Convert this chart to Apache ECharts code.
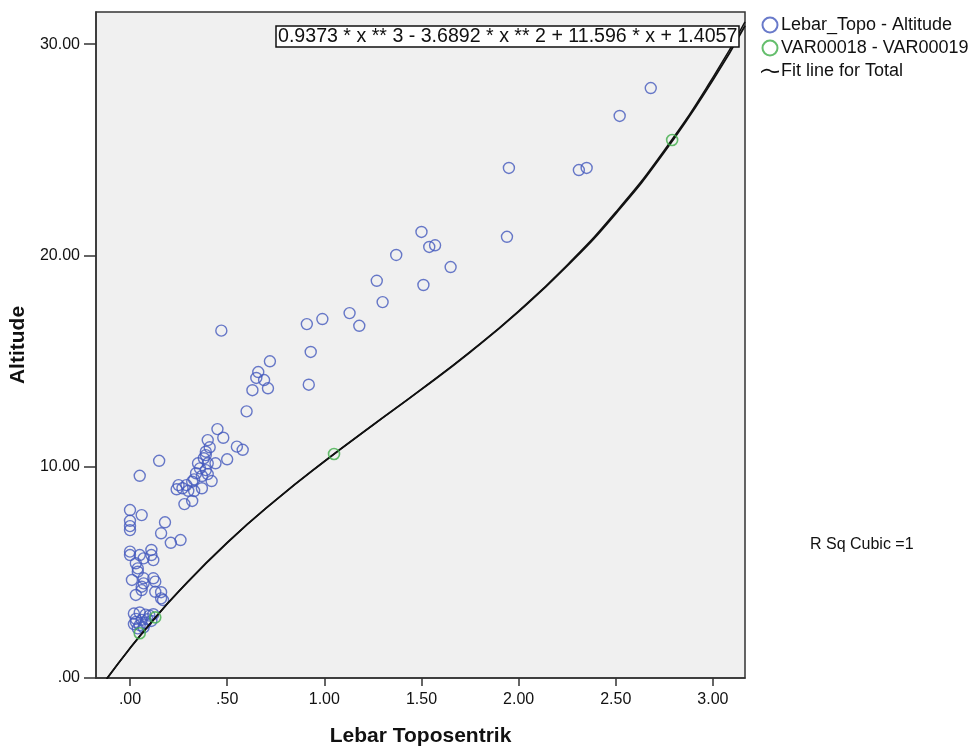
<!DOCTYPE html>
<html>
<head>
<meta charset="utf-8">
<script src="https://cdn.jsdelivr.net/npm/echarts@6/dist/echarts.min.js"></script>
<style>
  html, body { margin: 0; padding: 0; background: #fff; }
  #main { width: 979px; height: 751px; }
</style>
</head>
<body>
<div id="main"></div>
<script>
// 数据
const topoAltitude = [
  [2.68, 27.92], [2.52, 26.60], [1.95, 24.14], [2.31, 24.04], [2.35, 24.14],
  [1.50, 21.11], [1.54, 20.40], [1.57, 20.48], [1.94, 20.88], [1.37, 20.02],
  [1.65, 19.45], [1.51, 18.60], [1.27, 18.80], [1.30, 17.79], [1.13, 17.27],
  [1.18, 16.67], [0.99, 16.99], [0.91, 16.75], [0.47, 16.44], [0.93, 15.43],
  [0.92, 13.88], [0.72, 14.99], [0.66, 14.48], [0.65, 14.20], [0.69, 14.10],
  [0.71, 13.71], [0.63, 13.62], [0.60, 12.62],
  [0.45, 11.78], [0.48, 11.37], [0.40, 11.26], [0.55, 10.95], [0.58, 10.80],
  [0.41, 10.92], [0.39, 10.71], [0.39, 10.55], [0.38, 10.40], [0.44, 10.16],
  [0.50, 10.35], [0.15, 10.28], [0.35, 10.16], [0.40, 10.16], [0.36, 9.92],
  [0.39, 9.84], [0.34, 9.69], [0.37, 9.56], [0.40, 9.65], [0.42, 9.32],
  [0.37, 8.98], [0.32, 9.29], [0.33, 9.40], [0.25, 9.13], [0.24, 8.93],
  [0.27, 8.98], [0.29, 9.13], [0.30, 8.86], [0.33, 8.85], [0.05, 9.57],
  [0.32, 8.38], [0.28, 8.23],
  [0.00, 7.95], [0.06, 7.71], [0.00, 7.44], [0.00, 7.19], [0.00, 7.00],
  [0.18, 7.37], [0.16, 6.85], [0.21, 6.40], [0.26, 6.53],
  [0.00, 5.98], [0.00, 5.82], [0.05, 5.82], [0.07, 5.66], [0.11, 6.06],
  [0.11, 5.82], [0.12, 5.58], [0.03, 5.43], [0.04, 5.19], [0.04, 5.03],
  [0.01, 4.64], [0.07, 4.72], [0.07, 4.48], [0.12, 4.72], [0.13, 4.56],
  [0.06, 4.32], [0.06, 4.16], [0.03, 3.93], [0.13, 4.08], [0.16, 4.06],
  [0.16, 3.77], [0.17, 3.69],
  [0.02, 3.05], [0.05, 3.10], [0.08, 3.00], [0.10, 2.95], [0.12, 3.02],
  [0.03, 2.80], [0.06, 2.75], [0.09, 2.78], [0.02, 2.55], [0.05, 2.50],
  [0.08, 2.60], [0.11, 2.70], [0.04, 2.35], [0.07, 2.40], [0.03, 2.65]
]

const var18var19 = [[0.05, 2.12], [0.13, 2.87], [1.05, 10.60], [2.79, 25.46]]

// 拟合曲线上读取的点
const fitTotal = [
  [-0.12, -0.04], [0.00, 1.41], [0.10, 2.53], [0.25, 4.09], [0.50, 6.40],
  [0.75, 8.42], [1.00, 10.25], [1.25, 11.97], [1.50, 13.66], [1.75, 15.42],
  [2.00, 17.34], [2.25, 19.50], [2.50, 21.98], [2.75, 24.89], [3.00, 28.30],
  [3.165, 30.87]
]
const fitGroup = [
  [-0.12, -0.04], [0.00, 1.41], [0.10, 2.53], [0.25, 4.09], [0.50, 6.40],
  [0.75, 8.42], [1.00, 10.25], [1.25, 11.97], [1.50, 13.67], [1.75, 15.44],
  [2.00, 17.37], [2.25, 19.55], [2.50, 22.05], [2.75, 24.98], [3.00, 28.42],
  [3.165, 31.05]
]

const xTickValues = [0, 0.5, 1, 1.5, 2, 2.5, 3]
const xTickLabels = ['.00', '.50', '1.00', '1.50', '2.00', '2.50', '3.00']
const yTickValues = [0, 10, 20, 30]
const yTickLabels = ['.00', '10.00', '20.00', '30.00']

const equationText = '0.9373 * x ** 3 - 3.6892 * x ** 2 + 11.596 * x + 1.4057'

function tickLabel(values, labels) {
  return function (v) {
    let i = values.findIndex(t => Math.abs(t - v) < 1e-6)
    return i < 0 ? '' : labels[i]
  }
}

var myChart = echarts.init(document.getElementById('main'))

var font = 'Liberation Sans, Arial, sans-serif'

var option = {
  backgroundColor: '#fff',
  animation: false,
  textStyle: { fontFamily: font },
  title: [
    {
      text: equationText,
      left: 276,
      top: 26,
      padding: [1, 2, 0, 2],
      backgroundColor: '#fff',
      borderColor: '#111',
      borderWidth: 1.5,
      textStyle: { fontSize: 19.6, fontWeight: 'normal', color: '#111', fontFamily: font }
    },
    {
      text: 'R Sq Cubic =1',
      left: 810,
      top: 537,
      padding: 0,
      textStyle: { fontSize: 16, fontWeight: 'normal', color: '#111', fontFamily: font }
    }
  ],
  legend: {
    orient: 'vertical',
    left: 756,
    top: 11,
    itemGap: 5,
    itemWidth: 18,
    itemHeight: 15,
    data: [
      { name: 'Lebar_Topo - Altitude' },
      { name: 'VAR00018 - VAR00019' },
      { name: 'Fit line for Total', icon: 'path://M0,4 C4,0 8,1 10,3 C12,4 15,4 18,3 L18,4.6 C15,5.6 12,5.6 10,4.6 C8,2.6 4,1.6 0,5.6 Z' }
    ],
    textStyle: { fontSize: 18, lineHeight: 18, color: '#111', fontFamily: font, padding: [0, 0, 0, -3] }
  },
  grid: {
    left: 96,
    right: 234,
    top: 12,
    bottom: 73,
    outerBoundsMode: 'none',
    show: true,
    backgroundColor: '#f0f0f0',
    borderColor: '#333',
    borderWidth: 1.5
  },
  xAxis: {
    type: 'value',
    min: -0.175,
    max: 3.165,
    splitNumber: 7,
    name: 'Lebar Toposentrik',
    nameLocation: 'middle',
    nameGap: 48,
    nameTextStyle: { fontSize: 21, fontWeight: 'bold', color: '#111', fontFamily: font },
    axisLine: { onZero: false, lineStyle: { color: '#333', width: 1.5 } },
    axisTick: { length: 8, lineStyle: { color: '#333', width: 1.5 } },
    axisLabel: {
      fontSize: 16, color: '#111', margin: 14,
      showMinLabel: false, showMaxLabel: false,
      formatter: tickLabel(xTickValues, xTickLabels)
    },
    splitLine: { show: false }
  },
  yAxis: {
    type: 'value',
    min: 0,
    max: 31.52,
    interval: 10,
    name: 'Altitude',
    nameLocation: 'middle',
    nameGap: 66,
    nameTextStyle: { fontSize: 21, fontWeight: 'bold', color: '#111', fontFamily: font },
    axisLine: { onZero: false, lineStyle: { color: '#333', width: 1.5 } },
    axisTick: { length: 12, lineStyle: { color: '#333', width: 1.5 } },
    axisLabel: {
      fontSize: 16, color: '#111', margin: 16,
      showMaxLabel: false,
      formatter: tickLabel(yTickValues, yTickLabels)
    },
    splitLine: { show: false }
  },
  series: [
    {
      name: 'Lebar_Topo - Altitude',
      type: 'scatter',
      symbol: 'circle',
      symbolSize: 11,
      itemStyle: { color: 'rgba(0,0,0,0)', borderColor: '#4459bd', borderWidth: 1.4 },
      data: topoAltitude,
      z: 3
    },
    {
      name: 'Fit line group',
      type: 'line',
      data: fitGroup,
      smooth: true,
      symbol: 'none',
      lineStyle: { color: '#111', width: 1.5 },
      z: 4
    },
    {
      name: 'Fit line for Total',
      type: 'line',
      data: fitTotal,
      smooth: true,
      symbol: 'none',
      lineStyle: { color: '#111', width: 1.8 },
      itemStyle: { color: '#111' },
      z: 4
    },
    {
      name: 'VAR00018 - VAR00019',
      type: 'scatter',
      symbol: 'circle',
      symbolSize: 11,
      itemStyle: { color: 'rgba(0,0,0,0)', borderColor: '#3fae49', borderWidth: 1.6 },
      data: var18var19,
      z: 5
    }
  ]
}

myChart.setOption(option)
</script>
</body>
</html>
